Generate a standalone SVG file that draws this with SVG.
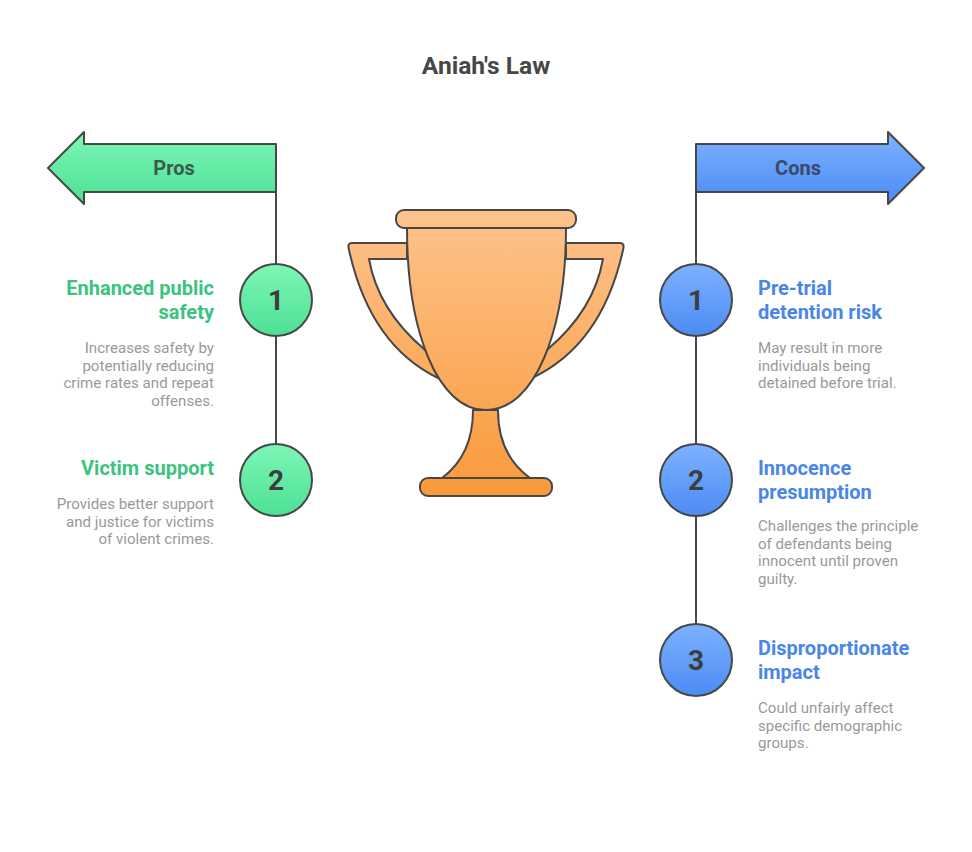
<svg xmlns="http://www.w3.org/2000/svg" width="972" height="852" viewBox="0 0 972 852">
<defs>
<linearGradient id="g" x1="0" y1="0" x2="0" y2="1"><stop offset="0" stop-color="#7DF6B6"/><stop offset="1" stop-color="#4DE095"/></linearGradient>
<linearGradient id="b" x1="0" y1="0" x2="0" y2="1"><stop offset="0" stop-color="#7DB2FF"/><stop offset="1" stop-color="#4C8BF5"/></linearGradient>
<linearGradient id="o" gradientUnits="userSpaceOnUse" x1="0" y1="210" x2="0" y2="496"><stop offset="0" stop-color="#FEC38C"/><stop offset="1" stop-color="#F99A3A"/></linearGradient>
<style>
.s{stroke:#474747;stroke-width:2;stroke-linejoin:round}
.n{font-family:Roboto,"Liberation Sans",sans-serif;font-weight:bold;font-size:28px;fill:#3d3d3d;text-anchor:middle}
.t{font-family:Roboto,"Liberation Sans",sans-serif;font-weight:bold;font-size:20px}
.d{font-family:Roboto,"Liberation Sans",sans-serif;font-size:15.1px;fill:#999}
.gt{fill:#3CC47F;text-anchor:end}.bt{fill:#4A86E8}
.r{text-anchor:end}
</style>
</defs>
<text x="486" y="74" text-anchor="middle" font-family="Roboto,'Liberation Sans',sans-serif" font-weight="bold" font-size="24.6" fill="#474747">Aniah's Law</text>
<g id="connectors" class="s" fill="none">
<line x1="276" y1="192" x2="276" y2="444"/>
<line x1="696" y1="192" x2="696" y2="624"/>
</g>
<g id="pros"><path class="s" fill="url(#g)" d="M48 168 L84 132 L84 144 L276 144 L276 192 L84 192 L84 204 Z"/>
<text x="174" y="175" text-anchor="middle" class="t" fill="#3d5a4a">Pros</text></g>
<g id="cons"><path class="s" fill="url(#b)" d="M924 168 L888 132 L888 144 L696 144 L696 192 L888 192 L888 204 Z"/>
<text x="798" y="175" text-anchor="middle" class="t" fill="#3a4a66">Cons</text></g>
<g id="trophy" class="s" fill="url(#o)">
<path d="M407 243 L352 243 Q347 243 349 250 Q370 345 438 378 L452 378 L424 349 Q378 310 369 259 L407 259 Z"/>
<path d="M566 243 L620 243 Q625 243 623 250 Q602 345 532 378 L520 378 L548 349 Q594 310 603 259 L566 259 Z"/>
<path d="M473 410 L498 410 Q498 455 530 478 L442 478 Q473 455 473 410 Z"/>
<rect x="420" y="478" width="132" height="18" rx="8"/>
<path d="M407 228 L566 228 C566 330 535 410 486 410 C437 410 407 330 407 228 Z"/>
<rect x="396" y="210" width="180" height="18" rx="8"/>
</g>
<g id="pro1"><circle class="s" cx="276" cy="300" r="36" fill="url(#g)"/><text class="n" x="276" y="310">1</text>
<text class="t gt" x="214" y="295">Enhanced public</text><text class="t gt" x="214" y="319">safety</text>
<text class="d r" x="214" y="353">Increases safety by</text><text class="d r" x="214" y="371">potentially reducing</text><text class="d r" x="214" y="388">crime rates and repeat</text><text class="d r" x="214" y="406">offenses.</text></g>
<g id="pro2"><circle class="s" cx="276" cy="480" r="36" fill="url(#g)"/><text class="n" x="276" y="490">2</text>
<text class="t gt" x="214" y="475">Victim support</text>
<text class="d r" x="214" y="509">Provides better support</text><text class="d r" x="214" y="527">and justice for victims</text><text class="d r" x="214" y="544">of violent crimes.</text></g>
<g id="con1"><circle class="s" cx="696" cy="300" r="36" fill="url(#b)"/><text class="n" x="696" y="310">1</text>
<text class="t bt" x="758" y="295">Pre-trial</text><text class="t bt" x="758" y="319">detention risk</text>
<text class="d" x="758" y="353">May result in more</text><text class="d" x="758" y="371">individuals being</text><text class="d" x="758" y="388">detained before trial.</text></g>
<g id="con2"><circle class="s" cx="696" cy="480" r="36" fill="url(#b)"/><text class="n" x="696" y="490">2</text>
<text class="t bt" x="758" y="475">Innocence</text><text class="t bt" x="758" y="499">presumption</text>
<text class="d" x="758" y="531">Challenges the principle</text><text class="d" x="758" y="549">of defendants being</text><text class="d" x="758" y="566">innocent until proven</text><text class="d" x="758" y="584">guilty.</text></g>
<g id="con3"><circle class="s" cx="696" cy="660" r="36" fill="url(#b)"/><text class="n" x="696" y="670">3</text>
<text class="t bt" x="758" y="655">Disproportionate</text><text class="t bt" x="758" y="679">impact</text>
<text class="d" x="758" y="713">Could unfairly affect</text><text class="d" x="758" y="731">specific demographic</text><text class="d" x="758" y="748">groups.</text></g>
</svg>
